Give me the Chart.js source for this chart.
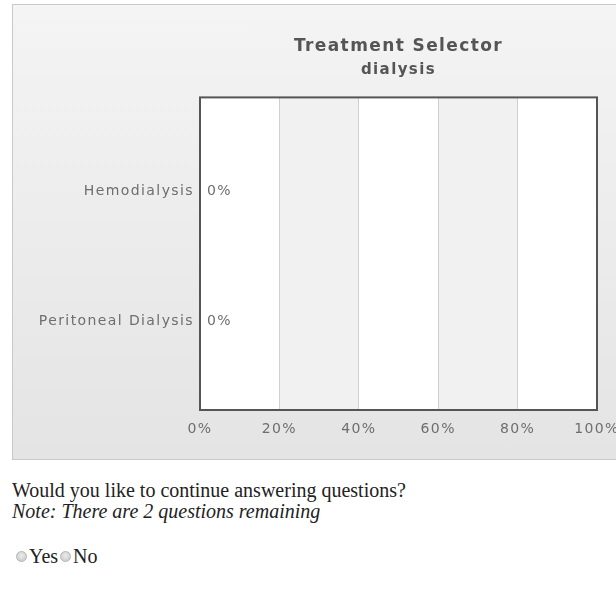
<!DOCTYPE html>
<html>
<head>
<meta charset="utf-8">
<script src="https://cdn.jsdelivr.net/npm/chart.js@4/dist/chart.umd.min.js"></script>
<style>
  html, body { margin: 0; padding: 0; background: #fff; overflow: hidden; width: 616px; height: 598px; }
  .chart-box {
    position: absolute; left: 12px; top: 4px; width: 640px; height: 456px;
    box-sizing: border-box; border: 1px solid #c9c9c9;
    background: linear-gradient(to bottom, #f4f4f4, #e4e4e4);
  }
  .chart-wrap { position: relative; width: 638px; height: 454px; }
  .question {
    position: absolute; left: 12px; top: 480px;
    font-family: "Liberation Serif", "Times New Roman", serif; font-size: 20px; line-height: 21px; color: #222;
  }
  .question em { font-style: italic; }
  .answers {
    position: absolute; left: 14px; top: 546px;
    font-family: "Liberation Serif", "Times New Roman", serif; font-size: 20px; line-height: 21px; color: #222;
  }
  .answers input {
    -webkit-appearance: none; appearance: none;
    width: 11px; height: 11px; margin: 0 2px 0 2px; vertical-align: 1px;
    border: 1px solid #b5b5b5; border-radius: 50%; box-sizing: border-box;
    background: radial-gradient(circle at 50% 40%, #ececec, #c4c4c4);
  }
</style>
</head>
<body>
<div class="chart-box">
  <div class="chart-wrap"><canvas id="treatmentChart"></canvas></div>
</div>
<div class="question">
  Would you like to continue answering questions?<br>
  <em>Note: There are 2 questions remaining</em>
</div>
<div class="answers">
  <label><input type="radio" name="cont" disabled>Yes</label><label><input type="radio" name="cont" disabled>No</label>
</div>
<script>
const chartTitle = "Treatment Selector";
const chartSubtitle = "dialysis";
const categories = ["Hemodialysis", "Peritoneal Dialysis"];
const percentages = [0, 0];
const xTicks = [0, 20, 40, 60, 80, 100];

const labelFont = { family: "DejaVu Sans", size: 14 };
const textGray = "#6e6e6e";
const spacing = "1.4px";

// bands, frame and "0%" labels, drawn with the chart's own scales
const framePlugin = {
  id: "frame",
  beforeUpdate(chart) { chart.ctx.letterSpacing = spacing; },
  beforeDraw(chart) {
    const ctx = chart.ctx;
    ctx.letterSpacing = spacing;
    const area = chart.chartArea;
    const x = chart.scales.x;
    ctx.save();
    ctx.fillStyle = "#ffffff";
    ctx.fillRect(area.left, area.top, area.right - area.left, area.bottom - area.top);
    ctx.fillStyle = "#f1f1f1";
    for (let i = 1; i < xTicks.length - 1; i += 2) {
      const x0 = x.getPixelForValue(xTicks[i]);
      const x1 = x.getPixelForValue(xTicks[i + 1]);
      ctx.fillRect(x0, area.top, x1 - x0, area.bottom - area.top);
    }
    ctx.restore();
  },
  afterDatasetsDraw(chart) {
    const ctx = chart.ctx;
    const area = chart.chartArea;
    ctx.save();
    ctx.strokeStyle = "#555555";
    ctx.lineWidth = 2;
    ctx.strokeRect(area.left, area.top, area.right - area.left, area.bottom - area.top);
    ctx.font = "14px 'DejaVu Sans'";
    ctx.fillStyle = textGray;
    ctx.textAlign = "left";
    ctx.textBaseline = "middle";
    chart.getDatasetMeta(0).data.forEach((bar, i) => {
      ctx.fillText(percentages[i] + "%", bar.x + 7, bar.y);
    });
    ctx.restore();
  }
};

const datasets = [
  {
    label: chartSubtitle,
    data: percentages.map((v, i) => ({ x: v, y: i })),
    backgroundColor: "#4572a7",
    borderWidth: 0,
    barThickness: 30
  }
];

const config = {
  type: "bar",
  data: { datasets },
  options: {
    indexAxis: "y",
    responsive: true,
    maintainAspectRatio: false,
    animation: false,
    layout: { padding: { left: 0, right: 54, top: 0, bottom: 0 } },
    plugins: {
      legend: { display: false },
      tooltip: { enabled: false },
      title: {
        display: true, text: chartTitle, fullSize: false, color: "#555",
        font: { family: "DejaVu Sans", size: 17, weight: "bold" },
        padding: { top: 31, bottom: 5 }
      },
      subtitle: {
        display: true, text: chartSubtitle, fullSize: false, color: "#555",
        font: { family: "DejaVu Sans", size: 15, weight: "bold" },
        padding: { top: 0, bottom: 18 }
      }
    },
    scales: {
      x: {
        type: "linear", min: 0, max: 100,
        grid: { color: "#cfcfcf", drawTicks: false },
        border: { display: false },
        ticks: { stepSize: 20, padding: 11, color: textGray, font: labelFont, callback: v => v + "%" },
        afterFit(scale) { scale.height = 49; scale.paddingLeft = 0; scale.paddingRight = 0; }
      },
      y: {
        type: "linear", reverse: true, offset: false, min: -0.72, max: 1.68,
        grid: { display: false, drawTicks: false },
        border: { display: false },
        afterBuildTicks(scale) { scale.ticks = categories.map((c, i) => ({ value: i })); },
        ticks: { padding: 6, color: textGray, font: labelFont, callback: v => categories[v] },
        afterFit(scale) { scale.width = 187; }
      }
    }
  },
  plugins: [framePlugin]
};

new Chart(document.getElementById("treatmentChart"), config);
</script>
</body>
</html>
